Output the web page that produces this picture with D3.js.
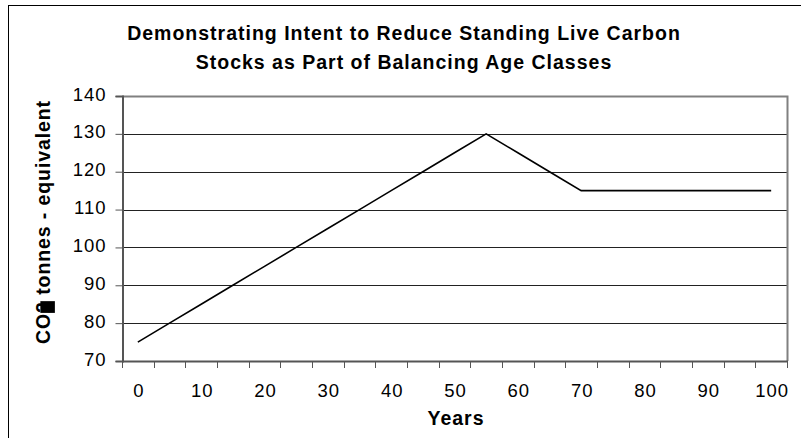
<!DOCTYPE html>
<html>
<head>
<meta charset="utf-8">
<script src="https://cdn.jsdelivr.net/npm/d3@7"></script>
<style>
body { margin: 0; background: #fff; }
svg { display: block; font-family: "Liberation Sans", Arial, sans-serif; }
</style>
</head>
<body>
<svg id="viz"></svg>
<script>
var width = 801;
var height = 438;

// data
var years = [0, 5, 10, 15, 20, 25, 30, 35, 40, 45, 50, 55, 60, 65, 70, 75, 80, 85, 90, 95, 100];
var stocks = [75, 80, 85, 90, 95, 100, 105, 110, 115, 120, 125, 130, 125, 120, 115, 115, 115, 115, 115, 115, 115];
var yTicks = [70, 80, 90, 100, 110, 120, 130, 140];
var xLabels = [0, 10, 20, 30, 40, 50, 60, 70, 80, 90, 100];
var titleLines = ["Demonstrating Intent to Reduce Standing Live Carbon", "Stocks as Part of Balancing Age Classes"];

var plot = {left: 122, right: 787, top: 96, bottom: 361};

var svg = d3.select("#viz").attr("width", width).attr("height", height);

// outer chart border
svg.append("rect")
    .attr("x", 8.5).attr("y", 5.5)
    .attr("width", width).attr("height", height)
    .style("fill", "none").style("stroke", "#000").style("stroke-width", 1);

var x = d3.scaleBand().domain(years).range([plot.left, plot.right]).paddingInner(0).paddingOuter(0);
var y = d3.scaleLinear().domain([70, 140]).range([plot.bottom, plot.top]);

// gridlines
svg.append("g")
    .selectAll("line")
    .data(yTicks.filter(function(d) { return d > 70 && d < 140; }))
    .enter()
    .append("line")
    .attr("x1", plot.left).attr("x2", plot.right)
    .attr("y1", function(d) { return Math.round(y(d)) + 0.5; })
    .attr("y2", function(d) { return Math.round(y(d)) + 0.5; })
    .style("stroke", "#222").style("stroke-width", 1);

// plot border (top, right)
svg.append("path")
    .attr("d", "M" + plot.left + "," + (plot.top + 0.5) + "H" + (plot.right + 0.5) + "V" + plot.bottom)
    .style("fill", "none").style("stroke", "#808080").style("stroke-width", 2);

// y axis
var yAxis = d3.axisLeft(y).tickValues(yTicks).tickSize(7).tickPadding(9).tickFormat(d3.format("d"));
var gy = svg.append("g").attr("transform", "translate(" + (plot.left + 0.5) + ",0)").call(yAxis);
gy.select(".domain").style("stroke", "#555").style("stroke-width", 2);
gy.selectAll(".tick line").style("stroke", "#555");
gy.selectAll(".tick text")
    .attr("dy", "0.22em")
    .style("font-size", "18.5px").style("letter-spacing", "1px").style("fill", "#000");

// x axis: ticks at category boundaries, labels on every other category
var bounds = years.map(function(d) { return x(d); }).concat([plot.right]);
var gx = svg.append("g");
gx.append("line")
    .attr("x1", plot.left).attr("x2", plot.right + 1)
    .attr("y1", plot.bottom + 0.5).attr("y2", plot.bottom + 0.5)
    .style("stroke", "#555").style("stroke-width", 2);
gx.selectAll("line.tk")
    .data(bounds)
    .enter()
    .append("line")
    .attr("class", "tk")
    .attr("x1", function(d) { return Math.round(d) + 0.5; })
    .attr("x2", function(d) { return Math.round(d) + 0.5; })
    .attr("y1", plot.bottom).attr("y2", plot.bottom + 7)
    .style("stroke", "#555");
gx.selectAll("text")
    .data(xLabels)
    .enter()
    .append("text")
    .attr("x", function(d) { return x(d) + x.bandwidth() / 2 + 1; })
    .attr("y", 397)
    .attr("text-anchor", "middle")
    .style("font-size", "18.5px").style("letter-spacing", "1px")
    .text(function(d) { return d; });

// the series line
var line = d3.line()
    .x(function(d, i) { return x(years[i]) + x.bandwidth() / 2; })
    .y(function(d) { return y(d); });
svg.append("path")
    .datum(stocks)
    .attr("d", line)
    .style("fill", "none").style("stroke", "#000").style("stroke-width", 1.6);

// title
svg.append("g").selectAll("text")
    .data(titleLines)
    .enter()
    .append("text")
    .attr("x", 404)
    .attr("y", function(d, i) { return 40 + i * 29; })
    .attr("text-anchor", "middle")
    .style("font-size", "19.5px").style("font-weight", "bold").style("letter-spacing", "1px")
    .text(function(d) { return d; });

// axis titles
svg.append("text")
    .attr("x", 456).attr("y", 425)
    .attr("text-anchor", "middle")
    .style("font-size", "19.5px").style("font-weight", "bold").style("letter-spacing", "1px")
    .text("Years");

var yt = svg.append("g").attr("transform", "translate(50,222) rotate(-90)");
var ytext = yt.append("text")
    .attr("text-anchor", "middle")
    .style("font-size", "19.5px").style("font-weight", "bold").style("letter-spacing", "0.9px");
ytext.append("tspan").text("CO");
ytext.append("tspan").attr("class", "sub").text("2");
ytext.append("tspan").text(" tonnes - equivalent");
// the subscript shows as a solid block in the picture
var bb = ytext.select(".sub").node().getBBox();
yt.insert("rect", "text")
    .attr("x", bb.x).attr("y", bb.y + bb.height * 0.38)
    .attr("width", bb.width).attr("height", bb.height * 0.66)
    .style("fill", "#000");
</script>
</body>
</html>
